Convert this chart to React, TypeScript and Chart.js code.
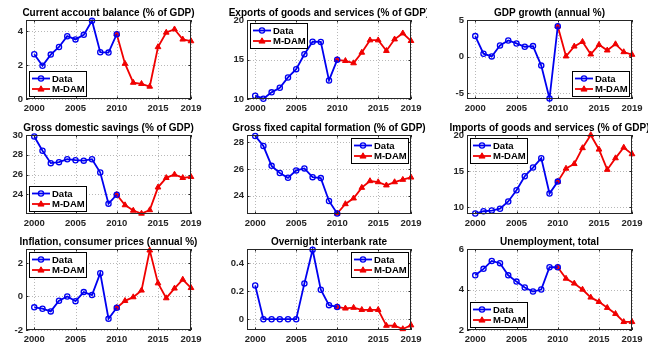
import React, { useEffect, useRef } from 'react';
import { Chart, registerables } from 'chart.js';
Chart.register(...registerables);

// ---------- data ----------
const dataYears = [2000, 2001, 2002, 2003, 2004, 2005, 2006, 2007, 2008, 2009, 2010];
const modelYears = [2010, 2011, 2012, 2013, 2014, 2015, 2016, 2017, 2018, 2019];
const xTickValues = [2000, 2005, 2010, 2015, 2019];

const currentAccountData = [2.65, 1.97, 2.63, 3.08, 3.72, 3.53, 3.8, 4.64, 2.77, 2.75, 3.84];
const currentAccountModel = [3.84, 2.09, 0.97, 0.9, 0.74, 3.08, 3.94, 4.13, 3.53, 3.43];

const exportsData = [10.42, 10.04, 10.84, 11.43, 12.73, 13.78, 15.67, 17.25, 17.23, 12.35, 14.96];
const exportsModel = [14.96, 14.83, 14.54, 15.88, 17.44, 17.44, 16.1, 17.56, 18.32, 17.36];

const gdpGrowthData = [2.8, 0.4, 0.03, 1.53, 2.2, 1.8, 1.35, 1.44, -1.22, -5.72, 4.14];
const gdpGrowthModel = [4.14, 0.05, 1.4, 2.03, 0.32, 1.62, 0.86, 1.71, 0.63, 0.27];

const savingsData = [29.85, 28.4, 27.15, 27.25, 27.55, 27.45, 27.4, 27.55, 26.2, 23.05, 23.95];
const savingsModel = [23.95, 22.9, 22.35, 22.05, 22.4, 24.7, 25.66, 26.0, 25.66, 25.76];

const capitalData = [28.49, 27.73, 26.24, 25.7, 25.34, 25.9, 26.05, 25.39, 25.32, 23.6, 22.66];
const capitalModel = [22.66, 23.37, 23.8, 24.6, 25.1, 25.02, 24.78, 25.02, 25.2, 25.37];

const importsData = [9.14, 9.45, 9.55, 9.8, 10.8, 12.36, 14.3, 15.5, 16.8, 11.9, 13.55];
const importsModel = [13.55, 15.36, 16.0, 18.2, 20.0, 18.0, 15.2, 16.8, 18.27, 17.36];

const inflationData = [-0.65, -0.73, -0.89, -0.26, 0.0, -0.28, 0.26, 0.08, 1.39, -1.33, -0.67];
const inflationModel = [-0.67, -0.26, -0.04, 0.36, 2.75, 0.79, -0.1, 0.48, 1.01, 0.51];

const interbankData = [0.24, 0, 0, 0, 0, 0, 0.255, 0.495, 0.21, 0.1, 0.087];
const interbankModel = [0.087, 0.077, 0.082, 0.067, 0.067, 0.067, -0.046, -0.046, -0.07, -0.043];

const unemploymentData = [4.7, 5.02, 5.41, 5.3, 4.7, 4.39, 4.1, 3.9, 4.0, 5.1, 5.1];
const unemploymentModel = [5.1, 4.54, 4.3, 4.0, 3.61, 3.39, 3.1, 2.8, 2.4, 2.4];

const titles = [
  'Current account balance (% of GDP)',
  'Exports of goods and services (% of GDP)',
  'GDP growth (annual %)',
  'Gross domestic savings (% of GDP)',
  'Gross fixed capital formation (% of GDP)',
  'Imports of goods and services (% of GDP)',
  'Inflation, consumer prices (annual %)',
  'Overnight interbank rate',
  'Unemployment, total',
];
const seriesNames = ['Data', 'M-DAM'];

const yTickLists = [
  [0, 2, 4],
  [10, 15, 20],
  [-5, 0, 5],
  [24, 26, 28, 30],
  [24, 26, 28],
  [10, 15, 20],
  [-2, 0, 2],
  [0, 0.2, 0.4],
  [2, 4, 6],
];
const yRanges = [
  [0, 4.68],
  [10, 20],
  [-5.78, 5],
  [22, 30],
  [22.62, 28.56],
  [9.07, 20],
  [-2, 2.83],
  [-0.077, 0.5],
  [2, 6],
];

const panelSeries = [
  [currentAccountData, currentAccountModel],
  [exportsData, exportsModel],
  [gdpGrowthData, gdpGrowthModel],
  [savingsData, savingsModel],
  [capitalData, capitalModel],
  [importsData, importsModel],
  [inflationData, inflationModel],
  [interbankData, interbankModel],
  [unemploymentData, unemploymentModel],
];

// ---------- layout / style ----------
const legendPos = ['sw', 'nw', 'se', 'sw', 'ne', 'nw', 'nw', 'ne', 'sw'];
const colBounds = [[26, 191], [247, 411], [467, 632]];
const rowBounds = [[20, 99], [135, 214], [249, 330]];
const X_MIN = 1999;
const X_MAX = 2019;
const Y_AXIS_W = 30;
const TOP_PAD = 22;
const RIGHT_PAD = 16;
const X_AXIS_H = 18;
const FONT = "'Liberation Sans', Arial, sans-serif";
const BLUE = '#0000f0';
const RED = '#f00000';
const AXIS_COLOR = '#262626';
const GRID_COLOR = '#b8b8b8';

function drawMarker(ctx: CanvasRenderingContext2D, kind: string, x: number, y: number) {
  ctx.save();
  if (kind === 'circle') {
    ctx.strokeStyle = BLUE;
    ctx.lineWidth = 1.3;
    ctx.beginPath();
    ctx.arc(x, y, 2.6, 0, Math.PI * 2);
    ctx.stroke();
  } else {
    ctx.fillStyle = RED;
    ctx.strokeStyle = RED;
    ctx.lineWidth = 1;
    const r = 3.2;
    ctx.beginPath();
    ctx.moveTo(x, y - r);
    ctx.lineTo(x + r * 0.95, y + r * 0.65);
    ctx.lineTo(x - r * 0.95, y + r * 0.65);
    ctx.closePath();
    ctx.fill();
    ctx.stroke();
  }
  ctx.restore();
}

function Panel({ index }: { index: number }) {
  const ref = useRef<HTMLCanvasElement>(null);
  const col = index % 3;
  const row = Math.floor(index / 3);
  const [pl, pr] = colBounds[col];
  const [pt, pb] = rowBounds[row];
  const width = Y_AXIS_W + (pr - pl) + RIGHT_PAD;
  const height = TOP_PAD + (pb - pt) + X_AXIS_H;
  const left = pl - Y_AXIS_W;
  const top = pt - TOP_PAD;

  useEffect(() => {
    const [dVals, mVals] = panelSeries[index];
    const yTicks = yTickLists[index];
    const [yMin, yMax] = yRanges[index];
    const title = titles[index];
    const lpos = legendPos[index];

    const gridPlugin = {
      id: 'dottedGrid' + index,
      beforeDatasetsDraw(chart: any) {
        const ctx: CanvasRenderingContext2D = chart.ctx;
        const ca = chart.chartArea;
        const xs = chart.scales.x;
        const ys = chart.scales.y;
        ctx.save();
        ctx.strokeStyle = GRID_COLOR;
        ctx.lineWidth = 1;
        ctx.setLineDash([1, 2]);
        ctx.beginPath();
        xTickValues.forEach((v) => {
          const px = Math.round(xs.getPixelForValue(v)) + 0.5;
          ctx.moveTo(px, ca.top);
          ctx.lineTo(px, ca.bottom);
        });
        yTicks.forEach((v) => {
          const py = Math.round(ys.getPixelForValue(v)) + 0.5;
          ctx.moveTo(ca.left, py);
          ctx.lineTo(ca.right, py);
        });
        ctx.stroke();
        ctx.restore();
      },
    };

    const framePlugin = {
      id: 'frame' + index,
      afterDatasetsDraw(chart: any) {
        const ctx: CanvasRenderingContext2D = chart.ctx;
        const ca = chart.chartArea;
        const xs = chart.scales.x;
        const ys = chart.scales.y;
        ctx.save();
        ctx.strokeStyle = AXIS_COLOR;
        ctx.lineWidth = 1;
        ctx.strokeRect(ca.left + 0.5, ca.top + 0.5, ca.right - ca.left - 1, ca.bottom - ca.top - 1);
        ctx.beginPath();
        xTickValues.forEach((v) => {
          const px = Math.round(xs.getPixelForValue(v)) + 0.5;
          ctx.moveTo(px, ca.bottom);
          ctx.lineTo(px, ca.bottom - 2.5);
          ctx.moveTo(px, ca.top);
          ctx.lineTo(px, ca.top + 2.5);
        });
        yTicks.forEach((v) => {
          const py = Math.round(ys.getPixelForValue(v)) + 0.5;
          ctx.moveTo(ca.left, py);
          ctx.lineTo(ca.left + 2.5, py);
          ctx.moveTo(ca.right, py);
          ctx.lineTo(ca.right - 2.5, py);
        });
        ctx.stroke();

        // title
        ctx.fillStyle = '#000';
        ctx.font = `bold 10px ${FONT}`;
        ctx.textAlign = 'center';
        ctx.textBaseline = 'middle';
        ctx.fillText(title, (ca.left + ca.right) / 2, ca.top - 6.5);

        // legend
        const lw = 57;
        const lh = 25;
        const lx = lpos.includes('w') ? Math.round(ca.left) + 3 : Math.round(ca.right) - 3 - lw;
        const ly = lpos.startsWith('n') ? Math.round(ca.top) + 3 : Math.round(ca.bottom) - 3 - lh;
        ctx.fillStyle = '#fff';
        ctx.fillRect(lx, ly, lw, lh);
        ctx.strokeStyle = '#000';
        ctx.lineWidth = 1;
        ctx.strokeRect(lx + 0.5, ly + 0.5, lw, lh);
        const rowsY = [ly + 7.5, ly + 18];
        const colors = [BLUE, RED];
        const kinds = ['circle', 'triangle'];
        rowsY.forEach((yy, i) => {
          ctx.strokeStyle = colors[i];
          ctx.lineWidth = 1.8;
          ctx.beginPath();
          ctx.moveTo(lx + 3, yy);
          ctx.lineTo(lx + 21, yy);
          ctx.stroke();
          drawMarker(ctx, kinds[i], lx + 12, yy);
          ctx.fillStyle = '#000';
          ctx.font = `bold 9.5px ${FONT}`;
          ctx.textAlign = 'left';
          ctx.textBaseline = 'middle';
          ctx.fillText(seriesNames[i], lx + 23, yy + 0.5);
        });
        ctx.restore();
      },
    };

    const chart = new Chart(ref.current as HTMLCanvasElement, {
      type: 'line',
      data: {
        datasets: [
          {
            label: seriesNames[0],
            data: dataYears.map((x, i) => ({ x, y: dVals[i] })),
            borderColor: BLUE,
            backgroundColor: 'rgba(0,0,0,0)',
            borderWidth: 1.8,
            pointStyle: 'circle',
            pointRadius: 2.6,
            pointBorderWidth: 1.3,
            pointBorderColor: BLUE,
            pointBackgroundColor: 'rgba(255,255,255,0)',
            tension: 0,
            clip: false,
          },
          {
            label: seriesNames[1],
            data: modelYears.map((x, i) => ({ x, y: mVals[i] })),
            borderColor: RED,
            backgroundColor: RED,
            borderWidth: 1.8,
            pointStyle: 'triangle',
            pointRadius: 3.3,
            pointBorderWidth: 1,
            pointBorderColor: RED,
            pointBackgroundColor: RED,
            tension: 0,
            clip: false,
          },
        ] as any,
      },
      options: {
        animation: false,
        responsive: false,
        maintainAspectRatio: false,
        events: [],
        layout: { padding: { top: TOP_PAD, right: RIGHT_PAD, left: 0, bottom: 0 } },
        plugins: { legend: { display: false }, title: { display: false }, tooltip: { enabled: false } },
        scales: {
          x: {
            type: 'linear',
            min: X_MIN,
            max: X_MAX,
            afterBuildTicks: (s: any) => {
              s.ticks = xTickValues.map((v) => ({ value: v }));
            },
            afterFit: (s: any) => {
              s.height = X_AXIS_H;
            },
            grid: { display: false, drawTicks: false },
            border: { display: false },
            ticks: {
              autoSkip: false,
              maxRotation: 0,
              padding: 4,
              color: AXIS_COLOR,
              font: { family: FONT, size: 9.5, weight: 'bold' },
              callback: (v: any) => String(v),
            },
          },
          y: {
            type: 'linear',
            min: yMin,
            max: yMax,
            afterBuildTicks: (s: any) => {
              s.ticks = yTicks.map((v) => ({ value: v }));
            },
            afterFit: (s: any) => {
              s.width = Y_AXIS_W;
            },
            grid: { display: false, drawTicks: false },
            border: { display: false },
            ticks: {
              autoSkip: false,
              padding: 3,
              color: AXIS_COLOR,
              font: { family: FONT, size: 9.5, weight: 'bold' },
              callback: (v: any) => String(v),
            },
          },
        },
      } as any,
      plugins: [gridPlugin, framePlugin],
    });
    return () => chart.destroy();
  }, [index]);

  return (
    <canvas
      ref={ref}
      width={width}
      height={height}
      style={{ position: 'absolute', left, top, width, height }}
    />
  );
}

export default function App() {
  useEffect(() => {
    document.body.style.margin = '0';
    document.body.style.background = '#fff';
  }, []);
  return (
    <div style={{ position: 'absolute', left: 0, top: 0, width: 651, height: 355, background: '#fff', overflow: 'hidden' }}>
      {titles.map((_, i) => (
        <Panel key={i} index={i} />
      ))}
    </div>
  );
}
